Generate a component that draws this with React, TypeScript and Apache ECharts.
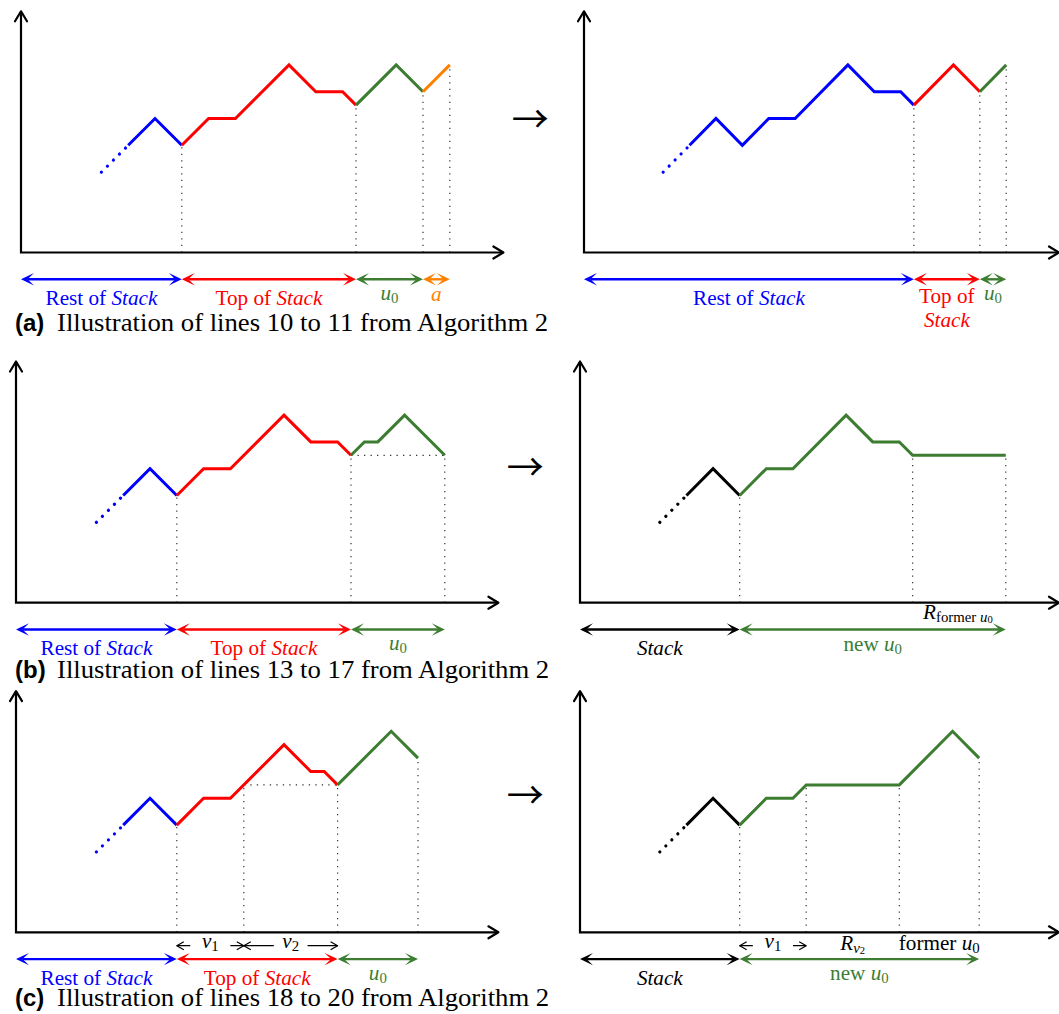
import { useEffect, useRef } from 'react';
import * as echarts from 'echarts';

// ---------- styles ----------
const U = 26.8; // pixels per unit, shared by all six panels
const BLUE = '#0000ff';
const RED = '#ff0000';
const GREEN = '#3c7d31';
const ORANGE = '#ff8000';
const BLACK = '#000000';
const GUIDE = '#333333';
const SERIF = 'Liberation Serif, serif';
const SANS = 'Liberation Sans, sans-serif';
const ARROWFONT = 'Noto Sans CJK JP, sans-serif';

// ---------- data (grid units) ----------
const leadIn = [[3, 3], [4, 4]];

// (a) before
const a1Rest = [[4, 4], [5, 5], [6, 4]];
const a1Top = [[6, 4], [7, 5], [8, 5], [10, 7], [11, 6], [12, 6], [12.5, 5.5]];
const a1U0 = [[12.5, 5.5], [14, 7], [15, 6]];
const a1A = [[15, 6], [16, 7]];
const a1Drops = [[6, 4], [12.5, 5.5], [15, 6], [16, 7]];
const a1Breaks = [0, 6, 12.5, 15, 16];

// (a) after
const a2Rest = [[4, 4], [5, 5], [6, 4], [7, 5], [8, 5], [10, 7], [11, 6], [12, 6], [12.5, 5.5]];
const a2Top = [[12.5, 5.5], [14, 7], [15, 6]];
const a2U0 = [[15, 6], [16, 7]];
const a2Drops = [[12.5, 5.5], [15, 6], [16, 7]];
const a2Breaks = [0, 12.5, 15, 16];

// (b) before
const b1Rest = [[4, 4], [5, 5], [6, 4]];
const b1Top = [[6, 4], [7, 5], [8, 5], [10, 7], [11, 6], [12, 6], [12.5, 5.5]];
const b1U0 = [[12.5, 5.5], [13, 6], [13.5, 6], [14.5, 7], [16, 5.5]];
const b1Drops = [[6, 4], [12.5, 5.5], [16, 5.5]];
const b1Level = [[12.5, 5.5], [16, 5.5]];
const b1Breaks = [0, 6, 12.5, 16];

// (b) after
const b2Stack = [[4, 4], [5, 5], [6, 4]];
const b2NewU0 = [[6, 4], [7, 5], [8, 5], [10, 7], [11, 6], [12, 6], [12.5, 5.5], [16, 5.5]];
const b2Drops = [[6, 4], [12.5, 5.5], [16, 5.5]];
const b2Breaks = [0, 6, 16];

// (c) before
const c1Rest = [[4, 4], [5, 5], [6, 4]];
const c1Top = [[6, 4], [7, 5], [8, 5], [10, 7], [11, 6], [11.5, 6], [12, 5.5]];
const c1U0 = [[12, 5.5], [14, 7.5], [15, 6.5]];
const c1Drops = [[6, 4], [8.5, 5.5], [12, 5.5], [15, 6.5]];
const c1Level = [[8.5, 5.5], [12, 5.5]];
const c1Breaks = [0, 6, 12, 15];
const c1Brackets = [[6, 8.5], [8.5, 12]];

// (c) after
const c2Stack = [[4, 4], [5, 5], [6, 4]];
const c2NewU0 = [[6, 4], [7, 5], [8, 5], [8.5, 5.5], [12, 5.5], [14, 7.5], [15, 6.5]];
const c2Drops = [[6, 4], [8.5, 5.5], [12, 5.5], [15, 6.5]];
const c2Level = [[8.5, 5.5], [12, 5.5]];
const c2Breaks = [0, 6, 15];
const c2Brackets = [[6, 8.5]];

const axisTip = [18, 9];
const spanRow = -1;
const bracketRow = -0.5;

const captions = [
  { tag: '(a)', text: 'Illustration of lines 10 to 11 from Algorithm 2' },
  { tag: '(b)', text: 'Illustration of lines 13 to 17 from Algorithm 2' },
  { tag: '(c)', text: 'Illustration of lines 18 to 20 from Algorithm 2' },
];

type Label = { x: number; y: number; text: string; color: string; pad?: number[] };

const restOfStack = '{n|Rest of }{i|Stack}';
const topOfStack = '{n|Top of }{i|Stack}';
const u0 = '{i|u}{s|0}';
const newU0 = '{n|new }{i|u}{s|0}';
const toArrow = '{arr|→}';

const a1Labels: Label[] = [
  { x: 3, y: -1.7, text: restOfStack, color: BLUE },
  { x: 9.25, y: -1.7, text: topOfStack, color: RED },
  { x: 13.75, y: -1.52, text: u0, color: GREEN },
  { x: 15.5, y: -1.55, text: '{i|a}', color: ORANGE },
  { x: 19, y: 5.05, text: toArrow, color: BLACK },
];
const a2Labels: Label[] = [
  { x: 6.25, y: -1.7, text: restOfStack, color: BLUE },
  { x: 13.75, y: -2.08, text: '{n|Top of}\n{i|Stack}', color: RED },
  { x: 15.5, y: -1.52, text: u0, color: GREEN },
];
const b1Labels: Label[] = [
  { x: 3, y: -1.7, text: restOfStack, color: BLUE },
  { x: 9.25, y: -1.7, text: topOfStack, color: RED },
  { x: 14.25, y: -1.52, text: u0, color: GREEN },
  { x: 19, y: 5.15, text: toArrow, color: BLACK },
];
const b2Labels: Label[] = [
  { x: 3, y: -1.7, text: '{i|Stack}', color: BLACK },
  { x: 11, y: -1.54, text: newU0, color: GREEN },
  { x: 14.2, y: -0.37, text: '{i|R}{s|former }{si|u}{ss|0}', color: BLACK },
];
const c1Labels: Label[] = [
  { x: 3, y: -1.7, text: restOfStack, color: BLUE },
  { x: 9, y: -1.7, text: topOfStack, color: RED },
  { x: 13.5, y: -1.52, text: u0, color: GREEN },
  { x: 7.25, y: -0.345, text: '{i|v}{s|1}', color: BLACK, pad: [0, 11] },
  { x: 10.25, y: -0.345, text: '{i|v}{s|2}', color: BLACK, pad: [0, 8] },
  { x: 19, y: 5.2, text: toArrow, color: BLACK },
];
const c2Labels: Label[] = [
  { x: 3, y: -1.7, text: '{i|Stack}', color: BLACK },
  { x: 10.5, y: -1.54, text: newU0, color: GREEN },
  { x: 7.25, y: -0.345, text: '{i|v}{s|1}', color: BLACK, pad: [0, 11] },
  { x: 10.25, y: -0.41, text: '{i|R}{si|v}{ss|2}', color: BLACK },
  { x: 13.5, y: -0.41, text: '{n|former }{i|u}{s|0}', color: BLACK },
];

// ---------- panel layout ----------
type Seg = { pts: number[][]; color: string };
type Panel = {
  origin: [number, number];
  leadColor: string;
  segs: Seg[];
  drops: number[][];
  level: number[][] | null;
  breaks: number[];
  spanColors: string[];
  brackets: number[][];
  labels: Label[];
};

const PANELS: Panel[] = [
  {
    origin: [21, 252.5], leadColor: BLUE,
    segs: [{ pts: a1Rest, color: BLUE }, { pts: a1Top, color: RED }, { pts: a1U0, color: GREEN }, { pts: a1A, color: ORANGE }],
    drops: a1Drops, level: null, breaks: a1Breaks, spanColors: [BLUE, RED, GREEN, ORANGE], brackets: [], labels: a1Labels,
  },
  {
    origin: [584, 252.5], leadColor: BLUE,
    segs: [{ pts: a2Rest, color: BLUE }, { pts: a2Top, color: RED }, { pts: a2U0, color: GREEN }],
    drops: a2Drops, level: null, breaks: a2Breaks, spanColors: [BLUE, RED, GREEN], brackets: [], labels: a2Labels,
  },
  {
    origin: [16, 602.7], leadColor: BLUE,
    segs: [{ pts: b1Rest, color: BLUE }, { pts: b1Top, color: RED }, { pts: b1U0, color: GREEN }],
    drops: b1Drops, level: b1Level, breaks: b1Breaks, spanColors: [BLUE, RED, GREEN], brackets: [], labels: b1Labels,
  },
  {
    origin: [580, 602.7], leadColor: BLACK,
    segs: [{ pts: b2Stack, color: BLACK }, { pts: b2NewU0, color: GREEN }],
    drops: b2Drops, level: null, breaks: b2Breaks, spanColors: [BLACK, GREEN], brackets: [], labels: b2Labels,
  },
  {
    origin: [16, 932.3], leadColor: BLUE,
    segs: [{ pts: c1Rest, color: BLUE }, { pts: c1Top, color: RED }, { pts: c1U0, color: GREEN }],
    drops: c1Drops, level: c1Level, breaks: c1Breaks, spanColors: [BLUE, RED, GREEN], brackets: c1Brackets, labels: c1Labels,
  },
  {
    origin: [580, 932.3], leadColor: BLACK,
    segs: [{ pts: c2Stack, color: BLACK }, { pts: c2NewU0, color: GREEN }],
    drops: c2Drops, level: c2Level, breaks: c2Breaks, spanColors: [BLACK, GREEN], brackets: c2Brackets, labels: c2Labels,
  },
];

const captionRows = [322.7, 669.7, 997.7];

const RICH: any = {
  n: { fontFamily: SERIF, fontSize: 20, lineHeight: 24 },
  i: { fontFamily: SERIF, fontSize: 20, lineHeight: 24, fontStyle: 'italic' },
  s: { fontFamily: SERIF, fontSize: 14, lineHeight: 13, verticalAlign: 'bottom' },
  si: { fontFamily: SERIF, fontSize: 14, lineHeight: 13, verticalAlign: 'bottom', fontStyle: 'italic' },
  ss: { fontFamily: SERIF, fontSize: 10, lineHeight: 8, verticalAlign: 'bottom' },
  arr: { fontFamily: ARROWFONT, fontSize: 37, lineHeight: 40 },
};

function guideItem(_params: any, api: any) {
  const a = api.coord([api.value(0), api.value(1)]);
  const b = api.coord([api.value(2), api.value(3)]);
  return {
    type: 'line',
    shape: { x1: a[0], y1: a[1], x2: b[0], y2: b[1] },
    style: { stroke: GUIDE, lineWidth: 1.2, lineDash: [1.3, 5.2] },
  };
}

function axisItem(_params: any, api: any) {
  const o = api.coord([0, 0]);
  const xt = api.coord([api.value(0), 0]);
  const yt = api.coord([0, api.value(1)]);
  const st = { stroke: BLACK, lineWidth: 2.2, fill: null, lineJoin: 'miter' };
  const hs = { stroke: BLACK, lineWidth: 2.2, fill: null, lineJoin: 'round', lineCap: 'round' };
  return {
    type: 'group',
    children: [
      { type: 'polyline', shape: { points: [[yt[0], yt[1] + 1], o, [xt[0] - 1, xt[1]]] }, style: st },
      { type: 'polyline', shape: { points: [[xt[0] - 10, xt[1] - 6], xt, [xt[0] - 10, xt[1] + 6]] }, style: hs },
      { type: 'polyline', shape: { points: [[yt[0] - 6, yt[1] + 10], yt, [yt[0] + 6, yt[1] + 10]] }, style: hs },
    ],
  };
}

function spanItem(colors: string[]) {
  return (params: any, api: any) => {
    const a = api.coord([api.value(0), api.value(1)]);
    const b = api.coord([api.value(2), api.value(1)]);
    const c = colors[params.dataIndex];
    const L = 13, W = 6.2, N = 6.5;
    return {
      type: 'group',
      children: [
        { type: 'line', shape: { x1: a[0] + N, y1: a[1], x2: b[0] - N, y2: b[1] }, style: { stroke: c, lineWidth: 2.4 } },
        { type: 'polygon', shape: { points: [[a[0], a[1]], [a[0] + L, a[1] - W], [a[0] + N, a[1]], [a[0] + L, a[1] + W]] }, style: { fill: c } },
        { type: 'polygon', shape: { points: [[b[0], b[1]], [b[0] - L, b[1] - W], [b[0] - N, b[1]], [b[0] - L, b[1] + W]] }, style: { fill: c } },
      ],
    };
  };
}

function bracketItem(_params: any, api: any) {
  const a = api.coord([api.value(0), api.value(1)]);
  const b = api.coord([api.value(2), api.value(1)]);
  const st = { stroke: BLACK, lineWidth: 1.2, fill: null, lineJoin: 'round' };
  return {
    type: 'group',
    children: [
      { type: 'line', shape: { x1: a[0], y1: a[1], x2: b[0], y2: b[1] }, style: st },
      { type: 'polyline', shape: { points: [[a[0] + 7, a[1] - 4], a, [a[0] + 7, a[1] + 4]] }, style: st },
      { type: 'polyline', shape: { points: [[b[0] - 7, b[1] - 4], b, [b[0] - 7, b[1] + 4]] }, style: st },
    ],
  };
}

function labelItem(labels: Label[]) {
  return (params: any, api: any) => {
    const lab = labels[params.dataIndex];
    const p = api.coord([api.value(0), api.value(1)]);
    const style: any = {
      text: lab.text, rich: RICH, fill: lab.color,
      fontFamily: SERIF, fontSize: 20,
      align: 'center', verticalAlign: 'middle', textAlign: 'center', textVerticalAlign: 'middle',
    };
    if (lab.pad) { style.backgroundColor = '#ffffff'; style.padding = lab.pad; }
    return { type: 'text', x: p[0], y: p[1], scaleX: lab.text === toArrow ? 1 : 1.06, style };
  };
}

function buildOption() {
  const grid: any[] = [], xAxis: any[] = [], yAxis: any[] = [], series: any[] = [];
  PANELS.forEach((p, g) => {
    const [ox, oy] = p.origin;
    grid.push({ left: ox, top: oy - 9 * U, width: 18 * U, height: 11 * U, containLabel: false });
    xAxis.push({ type: 'value', gridIndex: g, min: 0, max: 18, show: false });
    yAxis.push({ type: 'value', gridIndex: g, min: -2, max: 9, show: false });
    const ax = { xAxisIndex: g, yAxisIndex: g, coordinateSystem: 'cartesian2d', silent: true };

    series.push({
      type: 'custom', ...ax, renderItem: guideItem, encode: { x: [0, 2], y: [1, 3] },
      data: p.drops.map(([x, y]) => [x, 0, x, y]),
    });
    series.push({
      type: 'line', ...ax, data: leadIn, symbol: 'none', showSymbol: false, clip: false,
      lineStyle: { color: p.leadColor, width: 3.2, type: [0.01, 8.5], cap: 'round' },
    });
    p.segs.forEach((s) => series.push({
      type: 'line', ...ax, data: s.pts, symbol: 'none', showSymbol: false, clip: false,
      lineStyle: { color: s.color, width: 3, join: 'miter', cap: 'butt' },
    }));
    if (p.level) {
      series.push({
        type: 'custom', ...ax, renderItem: guideItem, encode: { x: [0, 2], y: [1, 3] },
        data: [[p.level[0][0], p.level[0][1], p.level[1][0], p.level[1][1]]],
      });
    }
    series.push({
      type: 'custom', ...ax, renderItem: spanItem(p.spanColors), encode: { x: [0, 2], y: 1 },
      data: p.spanColors.map((_c, i) => [p.breaks[i], spanRow, p.breaks[i + 1]]),
    });
    if (p.brackets.length) {
      series.push({
        type: 'custom', ...ax, renderItem: bracketItem, encode: { x: [0, 2], y: 1 },
        data: p.brackets.map(([a, b]) => [a, bracketRow, b]),
      });
    }
    series.push({
      type: 'custom', ...ax, renderItem: labelItem(p.labels),
      data: p.labels.map((l) => [l.x, l.y]),
    });
    series.push({ type: 'custom', ...ax, renderItem: axisItem, data: [axisTip] });
  });

  const graphic: any[] = [];
  captions.forEach((c, i) => {
    const y = captionRows[i];
    graphic.push({
      type: 'text', x: 15, y, silent: true,
      style: {
        text: c.tag, fill: BLACK, fontFamily: SANS, fontWeight: 'bold', fontSize: 24,
        align: 'left', verticalAlign: 'middle', textAlign: 'left', textVerticalAlign: 'middle',
      },
    });
    graphic.push({
      type: 'text', x: 57, y, scaleX: 1.09, silent: true,
      style: {
        text: c.text, fill: BLACK, fontFamily: SERIF, fontSize: 24.5,
        align: 'left', verticalAlign: 'middle', textAlign: 'left', textVerticalAlign: 'middle',
      },
    });
  });

  return { animation: false, backgroundColor: '#ffffff', grid, xAxis, yAxis, series, graphic };
}

export default function App() {
  const ref = useRef<HTMLDivElement>(null);
  useEffect(() => {
    if (!ref.current) return;
    const chart = echarts.init(ref.current, null, { renderer: 'svg' });
    chart.setOption(buildOption() as any);
    return () => chart.dispose();
  }, []);
  return <div ref={ref} style={{ position: 'absolute', left: 0, top: 0, width: 1059, height: 1014 }} />;
}
